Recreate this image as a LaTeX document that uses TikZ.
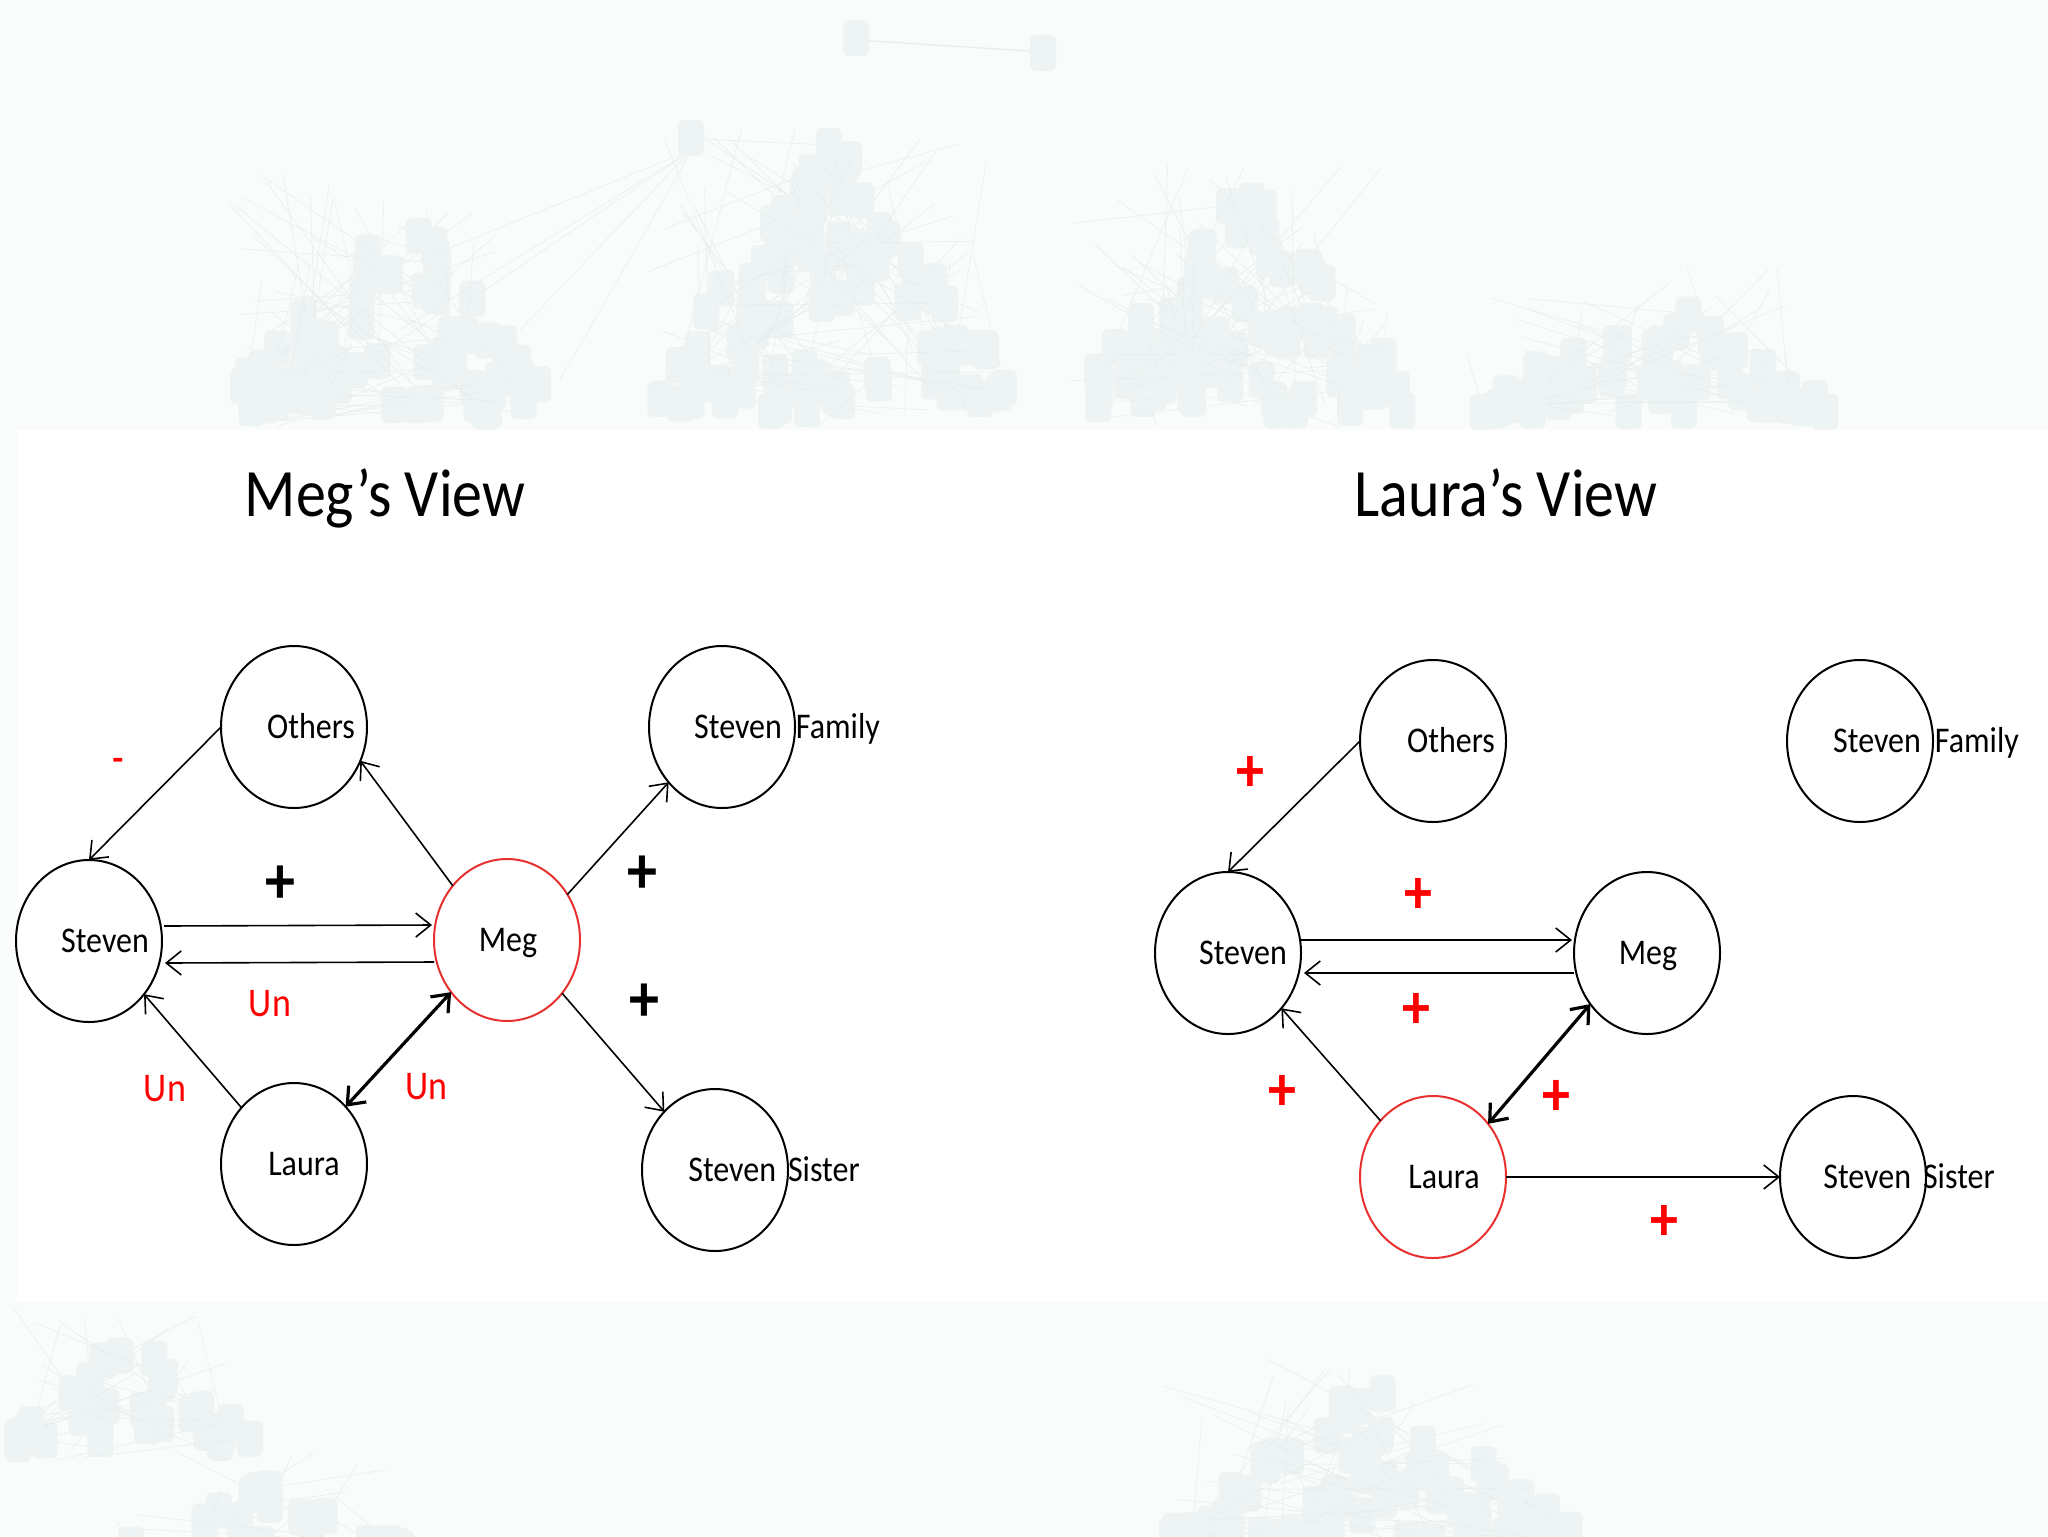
\documentclass[tikz,border=0pt]{standalone}
\usepackage{fontspec}
\setmainfont{Carlito}
\usetikzlibrary{shapes.geometric,arrows.meta,calc}
\definecolor{bgc}{HTML}{FAFBFB}
\definecolor{sqc}{HTML}{EEF4F3}
\definecolor{lnc}{HTML}{E6EEED}
\definecolor{megred}{HTML}{E8312F}
\newcommand{\vst}[1]{\scalebox{1}[1.13]{#1}}
\newcommand{\netcluster}[5]{%
  \foreach \i in {1,...,#5}{
    \pgfmathsetmacro{\ncx}{#1+#2*(2*rnd-1)}
    \pgfmathsetmacro{\ncf}{abs(\ncx-#1)/#2}
    \pgfmathsetmacro{\ncm}{#3+\ncf*(#4-#3)*0.75}
    \pgfmathsetmacro{\ncy}{\ncm+rnd*max(#4-\ncm-34,0)}
    \pgfmathsetmacro{\ncqx}{#1+#2*(2*rnd-1)}
    \pgfmathsetmacro{\ncqy}{#3+rnd*(#4-#3)}
    \draw[lnc,line width=0.25pt] (\ncx+14,\ncy+17) -- (\ncqx,\ncqy);
    \fill[sqc,rounded corners=3pt] (\ncx,\ncy) rectangle ++(26,36);
  }%
}
\begin{document}
\begin{tikzpicture}[x=0.5pt,y=-0.5pt,
  person/.style={ellipse,draw,line width=1pt,minimum width=73pt,minimum height=81pt,inner sep=0pt,outer sep=0pt},
  selfnode/.style={person,draw=megred},
  lbl/.style={font=\fontsize{16}{18}\selectfont,anchor=base,inner sep=0pt},
  title/.style={font=\fontsize{30}{34}\selectfont,anchor=base,inner sep=0pt},
  unl/.style={font=\fontsize{18}{20}\selectfont,text=red,inner sep=0pt},
  plusb/.style={font=\bfseries\fontsize{30}{32}\selectfont,inner sep=0pt},
  plusr/.style={font=\bfseries\fontsize{28}{30}\selectfont,text=red,inner sep=0pt},
  rel/.style={line width=0.8pt,-{Straight Barb[length=7.5pt,width=12pt]}},
  mutual/.style={line width=1.6pt,{Straight Barb[length=7.5pt,width=12pt]}-{Straight Barb[length=7.5pt,width=12pt]}},
]
\useasboundingbox (0,0) rectangle (2048,1536);
% ---------- faint background network ----------
\fill[bgc] (0,0) rectangle (2048,1536);
\pgfmathsetseed{7}
\netcluster{379}{150}{170}{428}{70}
\netcluster{820}{175}{118}{428}{95}
\netcluster{1230}{160}{163}{428}{80}
\netcluster{1640}{175}{268}{428}{50}
\netcluster{120}{120}{1306}{1460}{35}
\netcluster{250}{140}{1447}{1560}{18}
\netcluster{1358}{200}{1353}{1560}{70}
\foreach \tx/\ty in {420/260,470/300,520/330,560/380,400/330}{
  \draw[lnc,line width=0.25pt] (692,150) -- (\tx,\ty);
}
\fill[sqc,rounded corners=3pt] (678,120) rectangle ++(26,36);
\draw[lnc,line width=0.6pt] (857,40) -- (1044,52);
\fill[sqc,rounded corners=3pt] (843,20) rectangle ++(26,36);
\fill[sqc,rounded corners=3pt] (1030,35) rectangle ++(26,36);
% white panel
\fill[white] (17,430) rectangle (2048,1302);

% ---------- Meg's view ----------
\node[title] (mTitle) at (385,516) {\vst{Meg’s View}};
\node[person]   (mOthers) at (294,727) {};
\node[person]   (mSteven) at (89,941) {};
\node[selfnode] (mMeg)    at (507,940) {};
\node[person]   (mLaura)  at (294,1164) {};
\node[person]   (mFam)    at (722,727) {};
\node[person]   (mSis)    at (715,1170) {};
\node[lbl] (mOthersT) at (311,738.5) {\vst{Others}};
\node[lbl] (mStevenT) at (105,952.5) {\vst{Steven}};
\node[lbl] (mMegT)    at (508,951.5) {\vst{Meg}};
\node[lbl] (mLauraT)  at (304,1175.5) {\vst{Laura}};
\node[lbl] (mFamT)    at (787,738.5) {\vst{Steven\hspace{7pt}Family}};
\node[lbl] (mSisT)    at (774,1181.5) {\vst{Steven\hspace{6pt}Sister}};

\draw[rel] (mOthers.180) -- (mSteven.90);
\draw[rel] (mMeg.135) -- (mOthers.-27);
\draw[rel] (mMeg.37) -- (mFam.226);
\draw[rel] (mMeg.-44) -- (mSis.131);
\draw[rel] ($(mSteven.east)+(2,-15)$) -- ($(mMeg.west)+(-2,-15)$);
\draw[rel] ($(mMeg.west)+(0,22)$) -- ($(mSteven.east)+(3,22)$);
\draw[rel] (mLaura.133) -- (mSteven.-44);
\draw[mutual] (mLaura.48) -- (mMeg.223);

\node[font=\bfseries\fontsize{18}{20}\selectfont,text=red,inner sep=0pt] (mMinus) at (118,764) {-};
\node[plusb] (mP1) at (280,885) {\vst{+}};
\node[plusb] (mP2) at (642,875) {\vst{+}};
\node[plusb] (mP3) at (644,1003) {\vst{+}};
\node[unl] (mU1) at (270,1004) {\vst{Un}};
\node[unl] (mU2) at (165,1089) {\vst{Un}};
\node[unl] (mU3) at (426,1087) {\vst{Un}};

% ---------- Laura's view ----------
\node[title] (lTitle) at (1506,516) {\vst{Laura’s View}};
\node[person]   (lOthers) at (1433,741) {};
\node[person]   (lFam)    at (1860,741) {};
\node[person]   (lSteven) at (1228,953) {};
\node[person]   (lMeg)    at (1647,953) {};
\node[selfnode] (lLaura)  at (1433,1177) {};
\node[person]   (lSis)    at (1853,1177) {};
\node[lbl] (lOthersT) at (1451,752.5) {\vst{Others}};
\node[lbl] (lFamT)    at (1926,752.5) {\vst{Steven\hspace{7pt}Family}};
\node[lbl] (lStevenT) at (1243,964.5) {\vst{Steven}};
\node[lbl] (lMegT)    at (1648,964.5) {\vst{Meg}};
\node[lbl] (lLauraT)  at (1444,1188.5) {\vst{Laura}};
\node[lbl] (lSisT)    at (1909,1188.5) {\vst{Steven\hspace{6pt}Sister}};

\draw[rel] (lOthers.180) -- (lSteven.90);
\draw[rel] ($(lSteven.east)+(0,-13)$) -- ($(lMeg.west)+(-2,-13)$);
\draw[rel] ($(lMeg.west)+(0,20)$) -- ($(lSteven.east)+(3,20)$);
\draw[rel] (lLaura.133) -- (lSteven.-46);
\draw[mutual] (lLaura.44) -- (lMeg.222);
\draw[rel] (lLaura.east) -- (lSis.west);

\node[plusr] (lP1) at (1250,774) {\vst{+}};
\node[plusr] (lP2) at (1418,896) {\vst{+}};
\node[plusr] (lP3) at (1416,1011) {\vst{+}};
\node[plusr] (lP4) at (1282,1093) {\vst{+}};
\node[plusr] (lP5) at (1556,1098) {\vst{+}};
\node[plusr] (lP6) at (1664,1223) {\vst{+}};
\end{tikzpicture}
\end{document}
